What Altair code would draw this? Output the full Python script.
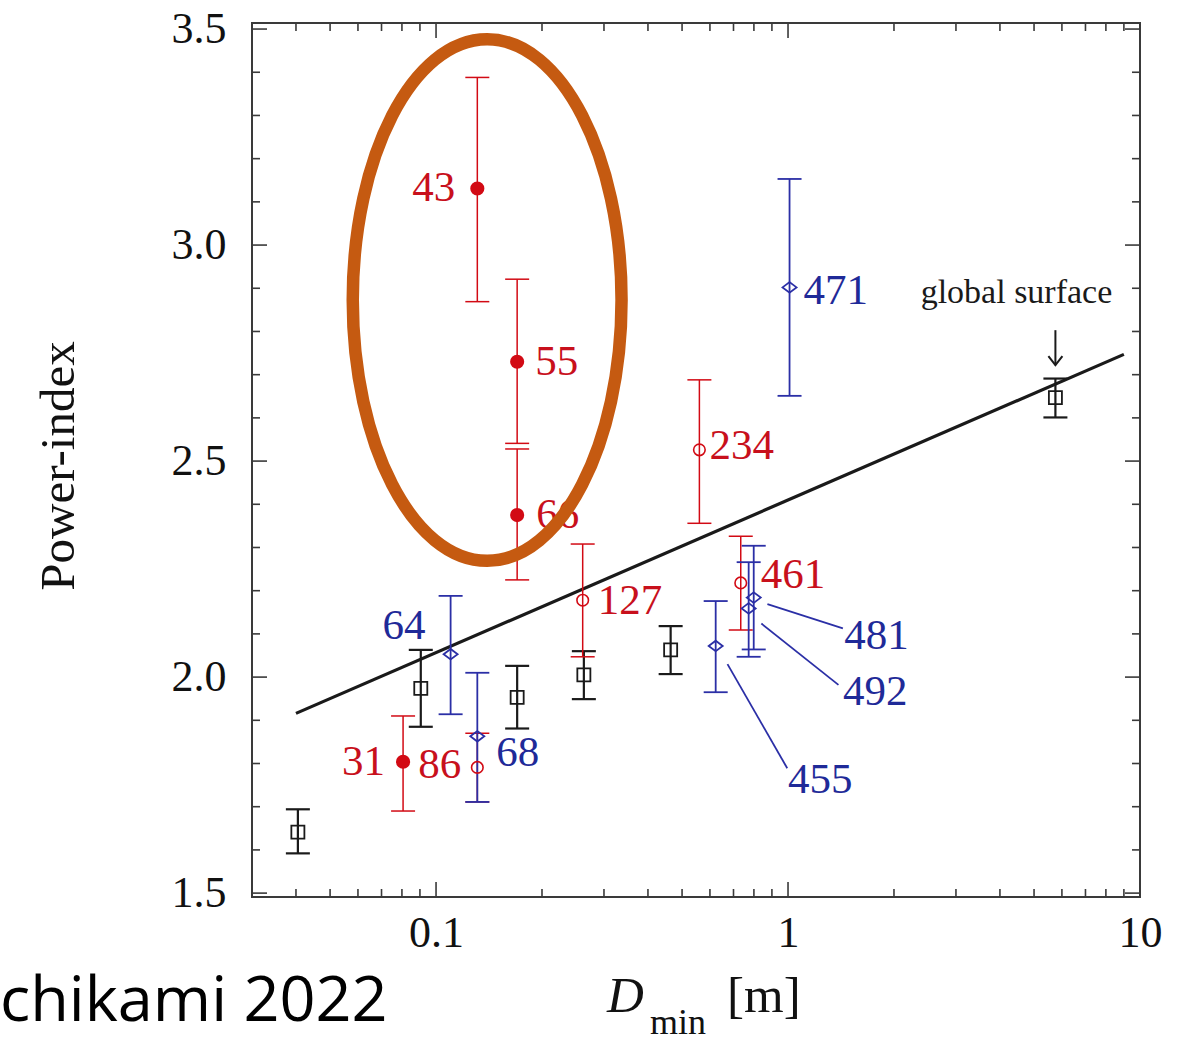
import altair as alt
import pandas as pd

# ---------------- data ----------------
red_filled_ids = ["43", "55", "66", "31"]
red_filled_x = [0.131, 0.170, 0.170, 0.0806]
red_filled_y = [3.131, 2.730, 2.375, 1.804]
red_filled_lo = [2.869, 2.541, 2.225, 1.690]
red_filled_hi = [3.388, 2.921, 2.528, 1.910]

red_open_ids = ["86", "127", "234", "461"]
red_open_x = [0.131, 0.261, 0.560, 0.734]
red_open_y = [1.791, 2.178, 2.526, 2.218]
red_open_lo = [1.711, 2.047, 2.356, 2.109]
red_open_hi = [1.870, 2.308, 2.688, 2.326]

blue_ids = ["64", "68", "455", "481", "492", "471"]
blue_x = [0.110, 0.131, 0.623, 0.799, 0.773, 1.010]
blue_y = [2.053, 1.863, 2.072, 2.184, 2.159, 2.902]
blue_lo = [1.914, 1.711, 1.965, 2.064, 2.047, 2.651]
blue_hi = [2.188, 2.010, 2.176, 2.304, 2.266, 3.153]

black_ids = ["a", "b", "c", "d", "e", "global"]
black_x = [0.0405, 0.0905, 0.170, 0.263, 0.464, 5.75]
black_y = [1.641, 1.974, 1.953, 2.005, 2.063, 2.647]
black_lo = [1.592, 1.885, 1.881, 1.949, 2.007, 2.601]
black_hi = [1.694, 2.063, 2.026, 2.060, 2.118, 2.691]

fit_x = [0.04, 9.0]
fit_y = [1.916, 2.747]

# axis ticks
x_major = [0.1, 1, 10]
x_minor = [0.03, 0.04, 0.05, 0.06, 0.07, 0.08, 0.09,
           0.2, 0.3, 0.4, 0.5, 0.6, 0.7, 0.8, 0.9,
           2, 3, 4, 5, 6, 7, 8, 9]
y_major = [1.5, 2.0, 2.5, 3.0, 3.5]
y_minor = [1.6, 1.7, 1.8, 1.9, 2.1, 2.2, 2.3, 2.4, 2.6, 2.7, 2.8, 2.9,
           3.1, 3.2, 3.3, 3.4]

# annotations
leader_ids = ["481", "492", "455"]
leader_x1 = [0.874, 0.840, 0.673]
leader_y1 = [2.169, 2.124, 2.030]
leader_x2 = [1.432, 1.391, 0.995]
leader_y2 = [2.113, 1.982, 1.789]
leader_tx = [1.444, 1.432, 1.000]
leader_ty = [2.066, 1.935, 1.731]

global_label = ["global surface"]
global_tx = [4.457]
global_ty = [2.865]
arrow_x = [5.75]
arrow_top = [2.803]
arrow_tip = [2.722]

ellipse_x = [0.1397]
ellipse_y = [2.8727]

# ---------------- styles ----------------
RED = "#D20A14"
RED_TXT = "#C8101C"
BLUE = "#2B2FA6"
BLUE_TXT = "#1F2A98"
BLACK = "#1a1a1a"
FRAME = "#3a3a3a"
ORANGE = "#C55A11"
SERIF = "Liberation Serif"
LBL = 43

XS = alt.Scale(type="log", domain=[0.03, 10], nice=False)
YS = alt.Scale(domain=[1.491, 3.514], nice=False, zero=False)

X_AXIS = alt.Axis(values=x_major, format="~g", title="", grid=False, domain=False,
                  ticks=False, tickSize=0, labelFont=SERIF, labelFontSize=44,
                  labelColor="#111111", labelPadding=14, labelFlush=False,
                  labelOverlap=False, labelBound=False)
Y_AXIS = alt.Axis(values=y_major, format=".1f", title="", grid=False, domain=False,
                  ticks=False, tickSize=0, labelFont=SERIF, labelFontSize=44,
                  labelColor="#111111", labelPadding=26, labelOverlap=False,
                  labelBound=False)


def X(field):
    return alt.X(field, type="quantitative", scale=XS, axis=X_AXIS)


def Y(field):
    return alt.Y(field, type="quantitative", scale=YS, axis=Y_AXIS)


def frame(ids, xs, ys, lo, hi):
    return pd.DataFrame({"id": ids, "x": xs, "y": ys, "lo": lo, "hi": hi})


df_rf = frame(red_filled_ids, red_filled_x, red_filled_y, red_filled_lo, red_filled_hi)
df_ro = frame(red_open_ids, red_open_x, red_open_y, red_open_lo, red_open_hi)
df_bl = frame(blue_ids, blue_x, blue_y, blue_lo, blue_hi)
df_bk = frame(black_ids, black_x, black_y, black_lo, black_hi)

CAP = "M-1,0L1,0"
DIAMOND = "M-1,0L0,-0.75L1,0L0,0.75Z"

layers = []

ell_path = "M0,-1A0.5154,1 0 1,1 0,1A0.5154,1 0 1,1 0,-1Z"

# frame ticks (inward on all four sides)
W, H = 888, 874
for vals, ln in [(y_major, 15), (y_minor, 8)]:
    d = pd.DataFrame({"v": vals})
    layers.append(alt.Chart(d).mark_rule(color=FRAME, strokeWidth=1.6).encode(
        y=Y("v"), x=alt.value(0), x2=alt.value(ln)))
    layers.append(alt.Chart(d).mark_rule(color=FRAME, strokeWidth=1.6).encode(
        y=Y("v"), x=alt.value(W - ln), x2=alt.value(W)))
for vals, ln in [(x_major, 15), (x_minor, 8)]:
    d = pd.DataFrame({"v": vals})
    layers.append(alt.Chart(d).mark_rule(color=FRAME, strokeWidth=1.6).encode(
        x=X("v"), y=alt.value(H - ln), y2=alt.value(H)))
    layers.append(alt.Chart(d).mark_rule(color=FRAME, strokeWidth=1.6).encode(
        x=X("v"), y=alt.value(0), y2=alt.value(ln)))

# fit line
layers.append(alt.Chart(pd.DataFrame({"x": fit_x, "y": fit_y})).mark_line(
    color=BLACK, strokeWidth=3.2).encode(x=X("x"), y=Y("y")))


def errbars(df, color, width):
    rule = alt.Chart(df).mark_rule(color=color, strokeWidth=width).encode(
        x=X("x"), y=Y("lo"), y2=alt.Y2("hi"))
    caps = alt.Chart(df).transform_fold(["lo", "hi"], as_=["end", "v"]).mark_point(
        shape=CAP, size=576, filled=False, color=color, strokeWidth=width,
        opacity=1).encode(x=X("x"), y=Y("v:Q"))
    return [rule, caps]


layers += errbars(df_bk, BLACK, 2.2)
layers += errbars(df_rf, RED, 1.5)
layers += errbars(df_ro, RED, 1.5)
layers += errbars(df_bl, BLUE, 1.8)

layers.append(alt.Chart(df_bk).mark_point(shape="square", size=170, filled=False,
                                          color=BLACK, strokeWidth=1.8, opacity=1)
              .encode(x=X("x"), y=Y("y")))
layers.append(alt.Chart(df_rf).mark_point(shape="circle", size=200, filled=True,
                                          color=RED, opacity=1)
              .encode(x=X("x"), y=Y("y")))
layers.append(alt.Chart(df_ro).mark_point(shape="circle", size=133, filled=False,
                                          color=RED, strokeWidth=1.6, opacity=1)
              .encode(x=X("x"), y=Y("y")))
layers.append(alt.Chart(df_bl).mark_point(shape=DIAMOND, size=196, filled=False,
                                          color=BLUE, strokeWidth=1.8, opacity=1)
              .encode(x=X("x"), y=Y("y")))

# point labels placed next to their points
label_specs = [
    (df_rf, "43", "right", -22, 0, RED_TXT),
    (df_rf, "55", "left", 18, 0, RED_TXT),
    (df_rf, "66", "left", 19, 0, RED_TXT),
    (df_rf, "31", "right", -18, 0, RED_TXT),
    (df_ro, "86", "right", -16, -2, RED_TXT),
    (df_ro, "127", "left", 15, 1, RED_TXT),
    (df_ro, "234", "left", 10, -4, RED_TXT),
    (df_ro, "461", "left", 20, -8, RED_TXT),
    (df_bl, "64", "right", -25, -28, BLUE_TXT),
    (df_bl, "68", "left", 19, 17, BLUE_TXT),
    (df_bl, "471", "left", 14, 4, BLUE_TXT),
]
for df, lid, al, dx, dy, col in label_specs:
    layers.append(alt.Chart(df).transform_filter(alt.datum.id == lid).mark_text(
        font=SERIF, fontSize=LBL, color=col, align=al, baseline="middle",
        dx=dx, dy=dy).encode(x=X("x"), y=Y("y"), text="id:N"))

# leader lines and their labels
df_lead = pd.DataFrame({"id": leader_ids, "x1": leader_x1, "y1": leader_y1,
                        "x2": leader_x2, "y2": leader_y2,
                        "tx": leader_tx, "ty": leader_ty})
layers.append(alt.Chart(df_lead).mark_rule(color=BLUE, strokeWidth=1.8).encode(
    x=X("x1"), y=Y("y1"), x2=alt.X2("x2"), y2=alt.Y2("y2")))
layers.append(alt.Chart(df_lead).mark_text(
    font=SERIF, fontSize=LBL, color=BLUE_TXT, align="left", baseline="alphabetic"
).encode(x=X("tx"), y=Y("ty"), text="id:N"))

# global surface annotation
layers.append(alt.Chart(pd.DataFrame({"t": global_label, "x": global_tx, "y": global_ty}))
              .mark_text(font=SERIF, fontSize=34, color=BLACK, align="center",
                         baseline="alphabetic")
              .encode(x=X("x"), y=Y("y"), text="t:N"))
df_arrow = pd.DataFrame({"x": arrow_x, "top": arrow_top, "tip": arrow_tip})
layers.append(alt.Chart(df_arrow).mark_rule(color=BLACK, strokeWidth=2).encode(
    x=X("x"), y=Y("top"), y2=alt.Y2("tip")))
layers.append(alt.Chart(df_arrow).mark_point(
    shape="M-1,-1.3L0,0L1,-1.3", size=196, filled=False, color=BLACK,
    strokeWidth=2, opacity=1).encode(x=X("x"), y=Y("tip")))

# orange ellipse highlight
layers.append(alt.Chart(pd.DataFrame({"x": ellipse_x, "y": ellipse_y})).mark_point(
    shape=ell_path, size=272000, filled=False, color=ORANGE, strokeWidth=12.5,
    opacity=1).encode(x=X("x"), y=Y("y")))


# axis titles (text marks for rich formatting)
def txt(t, x, y, size, **kw):
    return alt.Chart(pd.DataFrame({"t": [t]})).mark_text(
        font=SERIF, fontSize=size, color="#111111", **kw).encode(
        text="t:N", x=alt.value(x), y=alt.value(y))


layers.append(txt("D", 355, 989, 51, fontStyle="italic", align="left", baseline="alphabetic"))
layers.append(txt("min", 398, 1011, 36, align="left", baseline="alphabetic"))
layers.append(txt("[m]", 475, 989, 51, align="left", baseline="alphabetic"))
layers.append(txt("Power-index", -178, 443, 49, angle=270, align="center", baseline="alphabetic"))

# source caption
layers.append(alt.Chart(pd.DataFrame({"t": ["chikami 2022"]})).mark_text(
    font="Open Sans", fontSize=63, color="#000000", align="left",
    baseline="alphabetic").encode(text="t:N", x=alt.value(-252), y=alt.value(998)))

chart = alt.layer(*layers).properties(
    width=W, height=H,
    padding={"left": 252, "top": 23, "right": 59, "bottom": 144},
    autosize=alt.AutoSizeParams(type="none"),
    background="white",
).configure_view(stroke=FRAME, strokeWidth=2)

chart.save("out.html", embed_options={"renderer": "svg", "actions": False})
